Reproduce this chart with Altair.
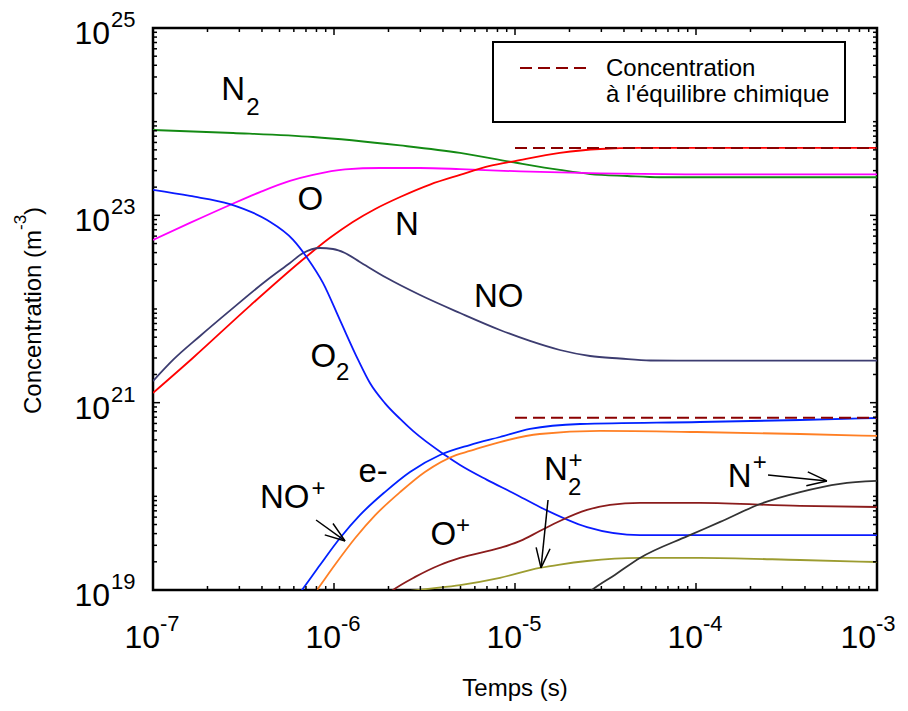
import altair as alt
import pandas as pd

# ---------------- data ----------------
T_N2 = [1e-7, 2.77e-7, 7.66e-7, 2.32e-6, 4.97e-6, 9.6e-6, 1.77e-5, 2.6e-5, 4.16e-5, 6.3e-5, 1e-4, 1e-3]
C_N2 = [8.15e23, 7.57e23, 6.86e23, 5.57e23, 4.64e23, 3.71e23, 3.05e23, 2.76e23, 2.63e23, 2.55e23, 2.55e23, 2.55e23]

T_O = [1e-7, 1.6e-7, 2.66e-7, 3.9e-7, 5.71e-7, 7.66e-7, 1.15e-6, 1.8e-6, 2.99e-6, 4.97e-6, 1.07e-5, 2.95e-5, 1.05e-4, 1e-3]
C_O = [5.46e22, 8.3e22, 1.29e23, 1.77e23, 2.33e23, 2.70e23, 3.09e23, 3.20e23, 3.20e23, 3.12e23, 2.94e23, 2.80e23, 2.74e23, 2.74e23]

T_N = [1e-7, 1.66e-7, 3.43e-7, 7.0e-7, 9.5e-7, 1.27e-6, 1.69e-6, 2.32e-6, 3.39e-6, 4.97e-6, 7.27e-6, 1e-5,
       1.77e-5, 2.95e-5, 4.9e-5, 1e-4, 1e-3]
C_N = [1.27e21, 3.0e21, 1.08e22, 3.59e22, 5.75e22, 8.5e22, 1.17e23, 1.57e23, 2.13e23, 2.70e23, 3.37e23, 3.80e23,
       4.64e23, 5.11e23, 5.24e23, 5.24e23, 5.24e23]

T_NO = [1e-7, 1.29e-7, 1.82e-7, 2.66e-7, 4.27e-7, 5.71e-7, 6.75e-7, 8.37e-7, 9.87e-7, 1.15e-6, 1.39e-6, 1.96e-6,
        2.99e-6, 4.97e-6, 8.26e-6, 1.21e-5, 1.77e-5, 2.6e-5, 3.8e-5, 5.6e-5, 1e-4, 1e-3]
C_NO = [1.70e21, 2.86e21, 5.15e21, 9.6e21, 2.04e22, 3.10e22, 3.96e22, 4.48e22, 4.37e22, 3.96e22, 3.18e22, 2.14e22,
        1.41e22, 9.06e21, 5.97e21, 4.56e21, 3.65e21, 3.15e21, 2.96e21, 2.82e21, 2.81e21, 2.81e21]

T_O2 = [1e-7, 1.6e-7, 2.66e-7, 4.27e-7, 5.93e-7, 7.18e-7, 8.69e-7, 1.079e-6, 1.36e-6, 1.58e-6, 1.91e-6, 2.32e-6,
        2.73e-6, 4.1e-6, 4.97e-6, 7.0e-6, 1e-5, 1.37e-5, 2.5e-5, 4.9e-5, 1e-4, 1e-3]
C_O2 = [1.87e23, 1.61e23, 1.32e23, 8.9e22, 5.5e22, 3.42e22, 1.90e22, 7.6e21, 2.86e21, 1.62e21, 9.9e20, 6.7e20,
        4.99e20, 2.76e20, 2.16e20, 1.50e20, 1.06e20, 7.7e19, 4.7e19, 3.86e19, 3.86e19, 3.86e19]

T_E = [5.71e-7, 6.65e-7, 8.37e-7, 1.08e-6, 1.39e-6, 1.91e-6, 2.63e-6, 3.85e-6, 5.63e-6, 8.26e-6, 1.21e-5,
       2.29e-5, 1.05e-4, 3.76e-4, 1e-3]
C_E = [6.9e18, 1.0e19, 1.85e19, 3.59e19, 6.3e19, 1.11e20, 1.82e20, 2.76e20, 3.53e20, 4.30e20, 5.24e20,
       5.92e20, 6.22e20, 6.53e20, 6.86e20]

T_NOP = [6.65e-7, 8.05e-7, 1.01e-6, 1.31e-6, 1.69e-6, 2.32e-6, 3.18e-6, 4.72e-6, 5.63e-6, 8.26e-6, 1.37e-5,
         2.95e-5, 1.01e-4, 3.76e-4, 1e-3]
C_NOP = [6.1e18, 1.0e19, 1.85e19, 3.59e19, 6.3e19, 1.11e20, 1.82e20, 2.76e20, 3.05e20, 3.80e20, 4.63e20,
         4.99e20, 4.86e20, 4.63e20, 4.41e20]

T_OP = [1.8e-6, 2.12e-6, 2.81e-6, 3.85e-6, 4.97e-6, 8.26e-6, 1.07e-5, 1.37e-5, 1.77e-5, 2.5e-5, 3.35e-5, 4.9e-5,
        1.05e-4, 3.76e-4, 1e-3]
C_OP = [7.8e18, 1.0e19, 1.38e19, 1.85e19, 2.20e19, 2.81e19, 3.34e19, 4.26e19, 5.46e19, 7.15e19, 8.09e19, 8.5e19,
        8.5e19, 7.89e19, 7.69e19]

T_N2P = [2.32e-6, 3.31e-6, 4.97e-6, 8.26e-6, 1.37e-5, 1.77e-5, 2.5e-5, 4.9e-5, 1.05e-4, 3.76e-4, 1e-3]
C_N2P = [9.5e18, 1.03e19, 1.13e19, 1.35e19, 1.72e19, 1.87e19, 2.04e19, 2.20e19, 2.20e19, 2.09e19, 1.99e19]

T_NP = [2.29e-5, 2.66e-5, 3.56e-5, 4.9e-5, 9.04e-5, 1.36e-4, 2.26e-4, 3.76e-4, 6.25e-4, 1e-3]
C_NP = [7.8e18, 1.0e19, 1.45e19, 2.20e19, 3.78e19, 5.33e19, 8.28e19, 1.11e20, 1.36e20, 1.46e20]

SPECIES = ["N2", "O", "N", "NO", "O2", "e-", "NO+", "O+", "N2+", "N+"]
COLORS = ["#138a13", "#ff00ff", "#ff0000", "#3c3c70", "#0a1aff", "#0022ff", "#ff7f24", "#8b1c1c", "#9c9c30", "#333333"]
SERIES = [(T_N2, C_N2), (T_O, C_O), (T_N, C_N), (T_NO, C_NO), (T_O2, C_O2), (T_E, C_E),
          (T_NOP, C_NOP), (T_OP, C_OP), (T_N2P, C_N2P), (T_NP, C_NP)]

# equilibrium concentrations (dashed)
EQ_T0 = [1e-5, 1e-5]
EQ_T1 = [1e-3, 1e-3]
EQ_C = [5.25e23, 6.9e20]

# axis ticks
X_MAJOR = [1e-7, 1e-6, 1e-5, 1e-4, 1e-3]
X_EXP = ["-7", "-6", "-5", "-4", "-3"]
X_MINOR = [k * 10.0 ** e for e in range(-7, -3) for k in range(2, 10)]
Y_MAJOR = [1e19, 1e21, 1e23, 1e25]
Y_EXP = ["19", "21", "23", "25"]
Y_MINOR = [k * 10.0 ** e for e in range(19, 25) for k in range(1, 10) if not (k == 1 and e % 2 == 1)]

# curve labels (text, t, c) : main labels and sub/superscripts
LAB_TXT = ["N", "O", "N", "NO", "O", "e-", "NO", "O", "N", "N"]
LAB_T = [2.38e-7, 6.28e-7, 2.17e-6, 5.93e-6, 7.41e-7, 1.365e-6, 3.90e-7, 3.41e-6, 1.445e-5, 1.50e-4]
LAB_C = [1.70e24, 1.14e23, 6.17e22, 1.05e22, 2.40e21, 1.42e20, 7.52e19, 3.03e19, 1.50e20, 1.26e20]
SCR_TXT = ["2", "2", "+", "+", "+", "2", "+"]
SCR_T = [3.27e-7, 1.026e-6, 7.5e-7, 4.72e-6, 1.977e-5, 1.96e-5, 2.06e-4]
SCR_C = [1.18e24, 1.75e21, 1.01e20, 4.07e19, 2.01e20, 1.03e20, 1.91e20]

# arrows (start -> tip) and arrow-head directions
ARR_T0 = [7.96e-7, 1.522e-5, 2.50e-4]
ARR_C0 = [5.59e19, 9.14e19, 1.69e20]
ARR_T1 = [1.151e-6, 1.392e-5, 5.29e-4]
ARR_C1 = [3.34e19, 1.72e19, 1.46e20]
ARR_ANG = [36, 96, 6]

# ---------------- chart ----------------
W, H = 724, 562
FONT = "Liberation Sans"
xs = alt.Scale(type="log", domain=[1e-7, 1e-3])
ys = alt.Scale(type="log", domain=[1e19, 1e25])

rows = []
for name, (ts, cs) in zip(SPECIES, SERIES):
    for t, c in zip(ts, cs):
        rows.append({"sp": name, "t": t, "c": c})
df = pd.DataFrame(rows)

X = lambda f: alt.X(f, type="quantitative", scale=xs, axis=None)
Y = lambda f: alt.Y(f, type="quantitative", scale=ys, axis=None)

lines = alt.Chart(df).mark_line(clip=True, interpolate="monotone", strokeWidth=1.8).encode(
    x=X("t"), y=Y("c"),
    color=alt.Color("sp:N", scale=alt.Scale(domain=SPECIES, range=COLORS), legend=None),
    detail="sp:N",
)

eq = alt.Chart(pd.DataFrame({"t0": EQ_T0, "t1": EQ_T1, "c": EQ_C})).mark_rule(
    color="#8b0000", strokeWidth=2, strokeDash=[12, 6]
).encode(x=X("t0"), x2="t1:Q", y=Y("c"))

layers = [lines, eq]

# ticks (inward, all four sides)
def xticks(vals, ln):
    d = pd.DataFrame({"v": vals})
    b = alt.Chart(d).mark_rule(color="black", strokeWidth=1.5).encode(
        x=X("v"), y=alt.value(H), y2=alt.value(H - ln))
    t = alt.Chart(d).mark_rule(color="black", strokeWidth=1.5).encode(
        x=X("v"), y=alt.value(0), y2=alt.value(ln))
    return [b, t]

def yticks(vals, ln):
    d = pd.DataFrame({"v": vals})
    l = alt.Chart(d).mark_rule(color="black", strokeWidth=1.5).encode(
        y=Y("v"), x=alt.value(0), x2=alt.value(ln))
    r = alt.Chart(d).mark_rule(color="black", strokeWidth=1.5).encode(
        y=Y("v"), x=alt.value(W), x2=alt.value(W - ln))
    return [l, r]

layers += xticks(X_MAJOR, 7) + xticks(X_MINOR, 4) + yticks(Y_MAJOR, 7) + yticks(Y_MINOR, 4)

# tick labels 10^n (the last one nudged left so it stays inside the page)
def xlabels(vals, exps, shift):
    d = pd.DataFrame({"v": vals, "e": exps})
    a = alt.Chart(d).mark_text(text="10", font=FONT, fontSize=32, align="right", dx=7 + shift,
                               baseline="alphabetic").encode(x=X("v"), y=alt.value(H + 58))
    b = alt.Chart(d).mark_text(font=FONT, fontSize=22, align="left", dx=7 + shift,
                               baseline="alphabetic").encode(x=X("v"), y=alt.value(H + 41), text="e:N")
    return [a, b]

layers += xlabels(X_MAJOR[:-1], X_EXP[:-1], 0) + xlabels(X_MAJOR[-1:], X_EXP[-1:], -8)

dyl = pd.DataFrame({"v": Y_MAJOR, "e": Y_EXP})
layers.append(alt.Chart(dyl).mark_text(text="10", font=FONT, fontSize=32, align="right", dy=16,
                                       baseline="alphabetic").encode(x=alt.value(-43), y=Y("v")))
layers.append(alt.Chart(dyl).mark_text(font=FONT, fontSize=22, align="left", dy=-1,
                                       baseline="alphabetic").encode(x=alt.value(-42), y=Y("v"), text="e:N"))

# axis titles
one = pd.DataFrame({"a": [0]})
layers.append(alt.Chart(one).mark_text(text="Temps (s)", font=FONT, fontSize=24, align="center",
                                       baseline="alphabetic").encode(x=alt.value(W / 2), y=alt.value(H + 106)))
layers.append(alt.Chart(one).mark_text(text="Concentration (m", font=FONT, fontSize=24, angle=270, align="left",
                                       baseline="alphabetic").encode(x=alt.value(-112), y=alt.value(386)))
layers.append(alt.Chart(one).mark_text(text="-3", font=FONT, fontSize=17, angle=270, align="left",
                                       baseline="alphabetic").encode(x=alt.value(-127), y=alt.value(202)))
layers.append(alt.Chart(one).mark_text(text=")", font=FONT, fontSize=24, angle=270, align="left",
                                       baseline="alphabetic").encode(x=alt.value(-112), y=alt.value(187)))

# curve labels
dl = pd.DataFrame({"s": LAB_TXT, "t": LAB_T, "c": LAB_C})
layers.append(alt.Chart(dl).mark_text(font=FONT, fontSize=33, align="left", baseline="alphabetic").encode(
    x=X("t"), y=Y("c"), text="s:N"))
ds = pd.DataFrame({"s": SCR_TXT, "t": SCR_T, "c": SCR_C})
layers.append(alt.Chart(ds).mark_text(font=FONT, fontSize=24, align="left", baseline="alphabetic").encode(
    x=X("t"), y=Y("c"), text="s:N"))

# arrows
da = pd.DataFrame({"t0": ARR_T0, "c0": ARR_C0, "t1": ARR_T1, "c1": ARR_C1, "a": ARR_ANG})
layers.append(alt.Chart(da).mark_rule(color="black", strokeWidth=1.5).encode(
    x=X("t0"), y=Y("c0"), x2="t1:Q", y2="c1:Q"))
layers.append(alt.Chart(da).mark_point(shape="M0,0L-1,-0.35M0,0L-1,0.35", filled=False, color="black",
                                       strokeWidth=1.5, size=1600, opacity=1).encode(
    x=X("t1"), y=Y("c1"), angle=alt.Angle("a:Q", scale=None)))

# legend box (manual)
layers.append(alt.Chart(one).mark_rect(fill="white", stroke="black", strokeWidth=2).encode(
    x=alt.value(340), x2=alt.value(692), y=alt.value(14), y2=alt.value(94)))
layers.append(alt.Chart(one).mark_rule(color="#8b0000", strokeWidth=2, strokeDash=[12, 6]).encode(
    x=alt.value(367), x2=alt.value(435), y=alt.value(40)))
layers.append(alt.Chart(one).mark_text(text="Concentration", font=FONT, fontSize=24, align="left",
                                       baseline="alphabetic").encode(x=alt.value(453), y=alt.value(48)))
layers.append(alt.Chart(one).mark_text(text="à l'équilibre chimique", font=FONT, fontSize=24, align="left",
                                       baseline="alphabetic").encode(x=alt.value(453), y=alt.value(74)))

chart = alt.layer(*layers).properties(
    width=W, height=H,
    padding={"left": 145, "top": 20, "right": 23, "bottom": 111},
    autosize=alt.AutoSizeParams(type="none"),
    background="white",
).configure_view(stroke="black", strokeWidth=2.5)

chart.save("out.html", embed_options={"renderer": "svg", "actions": False})
